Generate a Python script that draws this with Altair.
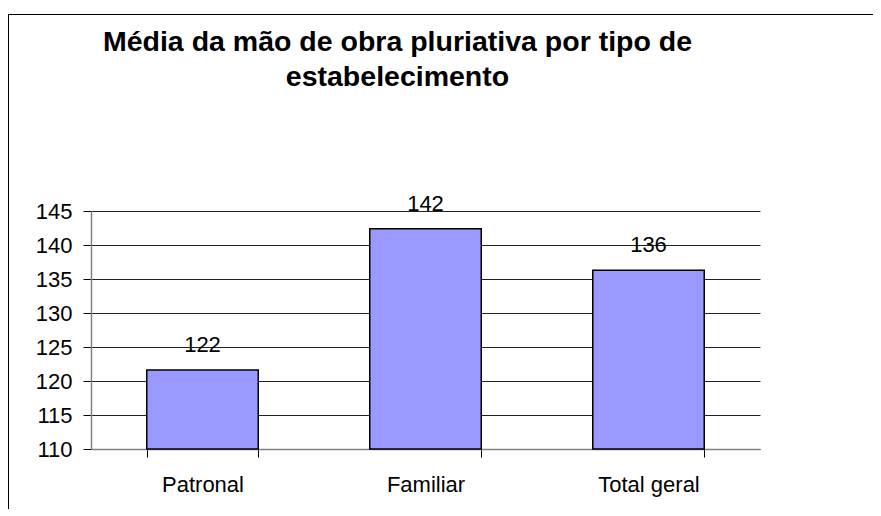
import altair as alt
import pandas as pd

categories = ["Patronal", "Familiar", "Total geral"]
values = [121.6, 142.4, 136.3]
y_ticks = [110, 115, 120, 125, 130, 135, 140, 145]
y_base = 110

df = pd.DataFrame({"tipo": categories, "media": values})

FONT = "Liberation Sans"

x_enc = alt.X(
    "tipo:N",
    sort=categories,
    title=None,
    scale=alt.Scale(paddingInner=0.5, paddingOuter=0.25),
    axis=alt.Axis(
        labelAngle=0,
        labelFont=FONT,
        labelFontSize=22,
        labelColor="black",
        labelPadding=34,
        labelBaseline="alphabetic",
        tickBand="extent",
        tickSize=8,
        tickColor="black",
        domainColor="#808080",
        domainWidth=1.5,
        grid=False,
    ),
)
y_enc = alt.Y(
    "media:Q",
    title=None,
    scale=alt.Scale(domain=[110, 145], nice=False, zero=False),
    axis=alt.Axis(
        values=y_ticks,
        tickCount=8,
        labelOverlap=False,
        labelFont=FONT,
        labelFontSize=22,
        labelColor="black",
        labelPadding=11,
        tickSize=8,
        tickColor="black",
        domainColor="#808080",
        domainWidth=1.5,
        grid=True,
        gridColor="#222222",
        gridWidth=1,
    ),
)

bars = alt.Chart(df).mark_bar(
    color="#9999FF", stroke="black", strokeWidth=1.5
).encode(x=x_enc, y=y_enc, y2=alt.datum(y_base))

labels = alt.Chart(df).mark_text(
    font=FONT, fontSize=22, color="black", baseline="alphabetic", dy=-18
).encode(
    x=x_enc,
    y=y_enc,
    text=alt.Text("media:Q", format=".0f"),
)

frame_data = alt.Data(values=[{"k": 1}])
frame_top = alt.Chart(frame_data).mark_rule(color="black", strokeWidth=1).encode(
    x=alt.value(-83), x2=alt.value(900), y=alt.value(-196.5)
)
frame_left = alt.Chart(frame_data).mark_rule(color="black", strokeWidth=1).encode(
    x=alt.value(-82.5), y=alt.value(-197), y2=alt.value(400)
)

chart = alt.layer(frame_top, frame_left, bars, labels).properties(
    width=669,
    height=238,
    autosize=alt.AutoSizeParams(type="none"),
    padding={"left": 83, "top": 203, "right": 113, "bottom": 60},
    title=alt.TitleParams(
        text=["Média da mão de obra pluriativa por tipo de", "estabelecimento"],
        font=FONT,
        fontSize=28.5,
        fontWeight="bold",
        color="black",
        anchor="middle",
        lineHeight=35,
        dx=-28,
        dy=78,
        offset=0,
    ),
).configure_view(stroke=None)

chart.save("out.html", embed_options={"renderer": "svg", "actions": False})
